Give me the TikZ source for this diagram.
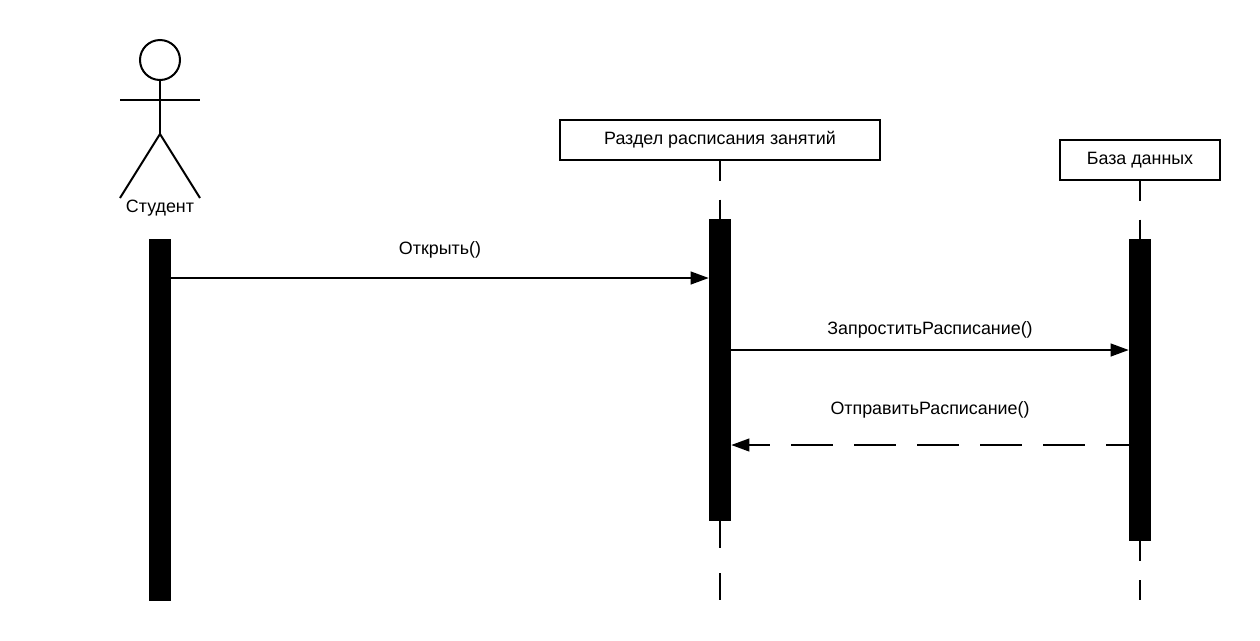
\documentclass[tikz,border=0pt]{standalone}
\usepackage{fontspec}
\setmainfont{Liberation Sans}
\usetikzlibrary{arrows.meta}
\tikzset{
  x=0.75pt,y=-0.75pt,
  every node/.style={font=\fontsize{13.4pt}{15pt}\selectfont,text=black,inner sep=0pt},
  ink/.style={line width=1.5pt,draw=black},
  objbox/.style={ink,fill=white,minimum height=30pt,anchor=center},
  actbar/.style={fill=black,draw=none,minimum width=16.5pt},
  msg/.style={ink,-{Triangle[length=13.5pt,width=9.5pt]},shorten >=0pt},
  liftop/.style={ink,dash pattern=on 15pt off 14pt},
  lifbot/.style={ink,dash pattern=on 20.2pt off 18.8pt},
  lifbotb/.style={ink,dash pattern=on 15pt off 14.2pt},
  retmsg/.style={msg,dash pattern=on 31.5pt off 15.75pt,dash phase=14.25pt},
}
\begin{document}
\begin{tikzpicture}
\useasboundingbox (0,0) rectangle (1260,640);
% actor
\node[ink,circle,minimum size=30pt,fill=white] (head) at (160,60) {};
\coordinate (armL) at (120,99.5);
\coordinate (armR) at (200,99.5);
\coordinate (hip) at (160,134);
\coordinate (footL) at (120,198);
\coordinate (footR) at (200,198);
\draw[ink] (head.south) -- (hip);
\draw[ink] (armL) -- (armR);
\draw[ink] (footL) -- (hip) -- (footR);
\node (student) at (160,208) {Студент};
% objects
\node[objbox,minimum width=240pt] (sched) at (720,140) {\raisebox{1pt}{Раздел расписания занятий}};
\node[objbox,minimum width=120pt] (db) at (1140,160) {\raisebox{1pt}{База данных}};
% activation bars
\node[actbar,minimum height=271.5pt] (barS) at (160,420) {};
\node[actbar,minimum height=226.5pt] (barM) at (720,370) {};
\node[actbar,minimum height=226.5pt] (barD) at (1140,390) {};
% lifelines
\coordinate (endM) at (720,600);
\coordinate (endD) at (1140,600);
\draw[liftop] (sched.south) -- (barM.north);
\draw[liftop] (db.south) -- (barD.north);
\draw[lifbot] (barM.south) -- (endM);
\draw[lifbotb] (barD.south) -- (endD);
% messages
\coordinate (y1) at (0,278);
\coordinate (y2) at (0,350);
\coordinate (y3) at (0,445);
\draw[msg] (barS.east |- y1) -- (barM.west |- y1);
\draw[msg] (barM.east |- y2) -- (barD.west |- y2);
\draw[retmsg] (barD.west |- y3) -- (barM.east |- y3);
\node (l1) at (440,250) {Открыть()};
\node (l2) at (930,330) {ЗапроститьРасписание()};
\node (l3) at (930,410) {ОтправитьРасписание()};
\end{tikzpicture}
\end{document}
